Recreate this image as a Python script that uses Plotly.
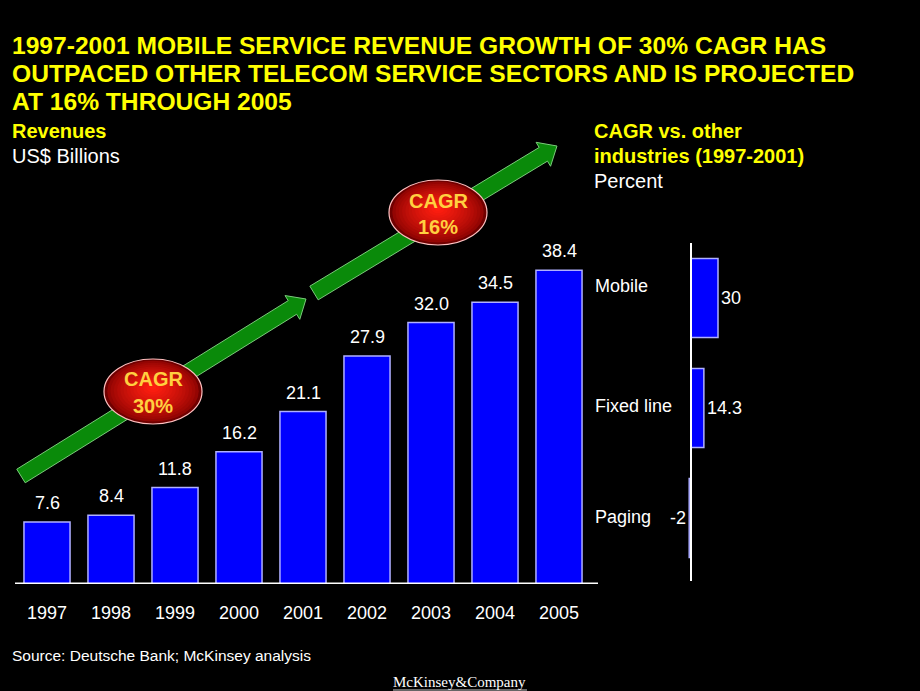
import math
import plotly.graph_objects as go

# ---------------- data ----------------
years = ["1997", "1998", "1999", "2000", "2001", "2002", "2003", "2004", "2005"]
revenues = [7.6, 8.4, 11.8, 16.2, 21.1, 27.9, 32.0, 34.5, 38.4]
revenue_labels = ["7.6", "8.4", "11.8", "16.2", "21.1", "27.9", "32.0", "34.5", "38.4"]

sectors = ["Mobile", "Fixed line", "Paging"]
sector_cagr = [30, 14.3, -2]
sector_labels = ["30", "14.3", "-2"]

cagr_badges = ["CAGR<br>30%", "CAGR<br>16%"]

title_lines = [
    "1997-2001 MOBILE SERVICE REVENUE GROWTH OF 30% CAGR HAS",
    "OUTPACED OTHER TELECOM SERVICE SECTORS AND IS PROJECTED",
    "AT 16% THROUGH 2005",
]

# ---------------- helpers ----------------
W, H = 920, 691
FONT = "Liberation Sans"
YELLOW = "#FFFF00"


def px(x):
    return x / W


def py(y):
    return 1 - y / H


fig = go.Figure()

fig.add_trace(go.Bar(
    x=years, y=revenues, xaxis="x", yaxis="y",
    marker=dict(color="#0000FF", line=dict(color="#B0B0FF", width=1.5)),
    hoverinfo="x+y", showlegend=False,
))

fig.add_trace(go.Bar(
    x=sector_cagr, y=sectors, orientation="h", xaxis="x2", yaxis="y2",
    marker=dict(color="#0000FF", line=dict(color="#B0B0FF", width=1.5)),
    hoverinfo="x+y", showlegend=False,
))

Y_TOP_PX, Y_BASE_PX = 230, 584
PX_PER_UNIT = 8.17
yrange_max = (Y_BASE_PX - Y_TOP_PX) / PX_PER_UNIT

X2_L, X2_R, X2_ZERO, X2_SCALE = 671, 811, 691, 0.9

fig.update_layout(
    width=W, height=H,
    margin=dict(l=0, r=0, t=0, b=0, autoexpand=False),
    paper_bgcolor="black", plot_bgcolor="black",
    bargap=0.28,
    font=dict(family=FONT, color="white"),
    xaxis=dict(
        domain=[px(15), px(591)], type="category",
        categoryorder="array", categoryarray=years,
        range=[-0.5, len(years) - 0.5], automargin=False,
        showgrid=False, zeroline=False, showline=False, ticks="",
        tickfont=dict(size=18, color="white", family=FONT),
        ticklabelstandoff=16, fixedrange=True,
    ),
    yaxis=dict(
        domain=[py(Y_BASE_PX), py(Y_TOP_PX)], range=[0, yrange_max], automargin=False,
        visible=False, showgrid=False, zeroline=False, fixedrange=True,
    ),
    xaxis2=dict(
        domain=[px(X2_L), px(X2_R)], automargin=False,
        range=[(X2_L - X2_ZERO) / X2_SCALE, (X2_R - X2_ZERO) / X2_SCALE],
        visible=False, showgrid=False, zeroline=False, fixedrange=True,
    ),
    yaxis2=dict(
        domain=[py(573), py(243)], type="category", automargin=False,
        categoryorder="array", categoryarray=sectors,
        range=[len(sectors) - 0.5, -0.5],
        visible=False, showgrid=False, zeroline=False, fixedrange=True,
        anchor="x2",
    ),
)

annotations = []
shapes = []

# baseline of the revenue chart
shapes.append(dict(type="line", xref="paper", yref="y", x0=px(15), x1=px(598), y0=0, y1=0,
                   line=dict(color="white", width=3), layer="above"))
# zero line of the CAGR chart
shapes.append(dict(type="line", xref="x2", yref="paper", x0=0, x1=0, y0=py(581), y1=py(243),
                   line=dict(color="white", width=2), layer="above"))

# value labels on revenue bars (category index positions)
for i, (v, lab) in enumerate(zip(revenues, revenue_labels)):
    annotations.append(dict(x=i, y=v, xref="x", yref="y", text=lab, showarrow=False,
                            yanchor="bottom", yshift=7, font=dict(size=18, color="white", family=FONT)))

# CAGR chart labels
label_shift = {"Mobile": 12, "Fixed line": 2, "Paging": 1}
for j, (s, v, lab) in enumerate(zip(sectors, sector_cagr, sector_labels)):
    annotations.append(dict(x=px(593), y=j, xref="paper", yref="y2", text=s, showarrow=False,
                            xanchor="left", yanchor="middle", yshift=label_shift[s],
                            font=dict(size=18, color="white", family=FONT)))
    annotations.append(dict(x=v, y=j, xref="x2", yref="y2", text=lab, showarrow=False,
                            xanchor="left" if v >= 0 else "right", yanchor="middle",
                            xshift=1 if v >= 0 else -1,
                            font=dict(size=18, color="white", family=FONT)))

# title
for i, line in enumerate(title_lines):
    annotations.append(dict(x=px(10), y=py(45 + 28 * i), xref="paper", yref="paper", text="<b>%s</b>" % line,
                            showarrow=False, xanchor="left", yanchor="middle",
                            font=dict(size=24.6, color=YELLOW, family=FONT)))


# sub headers
def header(x, y, text, color, bold=False, size=20):
    annotations.append(dict(x=px(x), y=py(y), xref="paper", yref="paper",
                            text=("<b>%s</b>" % text) if bold else text, showarrow=False,
                            xanchor="left", yanchor="middle", font=dict(size=size, color=color, family=FONT)))


header(10, 131, "Revenues", YELLOW, bold=True)
header(10, 156, "US$ Billions", "white")
header(592, 131, "CAGR vs. other", YELLOW, bold=True)
header(592, 156, "industries (1997-2001)", YELLOW, bold=True)
header(592, 181, "Percent", "white")

# source and logo
header(10, 655, "Source: Deutsche Bank; McKinsey analysis", "white", size=15.5)
annotations.append(dict(x=px(459), y=py(682), xref="paper", yref="paper", text="McKinsey&amp;Company",
                        showarrow=False, xanchor="center", yanchor="middle",
                        font=dict(size=15, color="white", family="Liberation Serif")))
shapes.append(dict(type="line", xref="paper", yref="paper", x0=px(393), x1=px(527), y0=py(690), y1=py(690),
                   line=dict(color="#cccccc", width=1)))


# arrows
def arrow_path(tail, tip, shaft_hw=8, head_hw=14, head_len=16):
    dx, dy = tip[0] - tail[0], tip[1] - tail[1]
    L = math.hypot(dx, dy)
    ux, uy = dx / L, dy / L
    nx, ny = -uy, ux
    bx, by = tip[0] - ux * head_len, tip[1] - uy * head_len
    pts = [
        (tail[0] + nx * shaft_hw, tail[1] + ny * shaft_hw),
        (bx + nx * shaft_hw, by + ny * shaft_hw),
        (bx + nx * head_hw, by + ny * head_hw),
        tip,
        (bx - nx * head_hw, by - ny * head_hw),
        (bx - nx * shaft_hw, by - ny * shaft_hw),
        (tail[0] - nx * shaft_hw, tail[1] - ny * shaft_hw),
    ]
    return "M " + " L ".join("%.5f,%.5f" % (px(x), py(y)) for x, y in pts) + " Z"


for tail, tip in [((21, 476), (306, 299)), ((314, 293), (557, 146))]:
    shapes.append(dict(type="path", xref="paper", yref="paper", path=arrow_path(tail, tip),
                       fillcolor="#0A8A0A", line=dict(color="#7ACB7A", width=1), layer="above"))


# CAGR badges (ellipses with radial shading)
def lerp_color(c1, c2, t):
    a = [int(c1[i:i + 2], 16) for i in (1, 3, 5)]
    b = [int(c2[i:i + 2], 16) for i in (1, 3, 5)]
    return "#%02x%02x%02x" % tuple(int(round(a[k] + (b[k] - a[k]) * t)) for k in range(3))


for (cx, cy), text in zip([(153, 391.5), (438, 212.5)], cagr_badges):
    rx, ry = 49, 32.5
    shapes.append(dict(type="circle", xref="paper", yref="paper",
                       x0=px(cx - rx), x1=px(cx + rx), y0=py(cy + ry), y1=py(cy - ry),
                       fillcolor="#700000", line=dict(color="#FFC0C0", width=1.2), layer="above"))
    N = 14
    for i in range(1, N + 1):
        t = i / N
        s = 1 - 0.93 * t
        ccy = cy - 4 * t
        shapes.append(dict(type="circle", xref="paper", yref="paper",
                           x0=px(cx - rx * s), x1=px(cx + rx * s), y0=py(ccy + ry * s), y1=py(ccy - ry * s),
                           fillcolor=lerp_color("#800000", "#FF1E10", t ** 0.7), line=dict(width=0),
                           layer="above"))
    lines = text.split("<br>")
    for j, ln in enumerate(lines):
        annotations.append(dict(x=px(cx), y=py(cy - 12 + 26 * j), xref="paper", yref="paper",
                                text="<b>%s</b>" % ln, showarrow=False, xanchor="center", yanchor="middle",
                                font=dict(size=20, color="#FFD040", family=FONT)))

fig.update_layout(annotations=annotations, shapes=shapes)

fig.write_html("out.html")
